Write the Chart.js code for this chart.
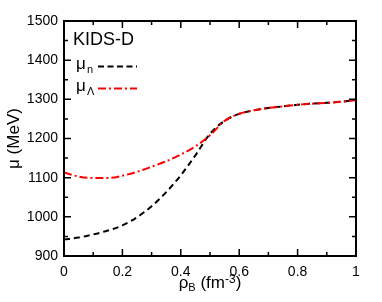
<!DOCTYPE html>
<html>
<head>
<meta charset="utf-8">
<script src="https://cdn.jsdelivr.net/npm/chart.js@4"></script>
<style>
  html, body { margin: 0; padding: 0; background: #fff; }
  canvas { display: block; }
</style>
</head>
<body>
<canvas id="muChart" width="382" height="302"></canvas>
<script>
// baryon density rho_B (fm^-3)
const rho = [0, 0.05, 0.1, 0.15, 0.2, 0.25, 0.3, 0.35, 0.4, 0.45, 0.5, 0.55, 0.6, 0.65, 0.7, 0.75, 0.8, 0.85, 0.9, 0.95, 1];
// neutron chemical potential (MeV)
const muN = [942, 947, 955, 965, 978, 999, 1027, 1063, 1106, 1157, 1212, 1245, 1263, 1272, 1278, 1282, 1286, 1289, 1291, 1294, 1298];
// lambda chemical potential (MeV)
const muL = [1113, 1103, 1099, 1099, 1105, 1115, 1128, 1142, 1159, 1180, 1208, 1245, 1263, 1272, 1278, 1282, 1286, 1289, 1291, 1294, 1298];

const xTicks = [0, 0.2, 0.4, 0.6, 0.8, 1];
const yTicks = [900, 1000, 1100, 1200, 1300, 1400, 1500];

const FONT = "'Liberation Sans', Arial, Helvetica, sans-serif";

// frame, inward ticks on all four sides, legend and axis titles
const decorations = {
    id: 'decorations',
    afterDatasetsDraw(chart) {
        const ctx = chart.ctx;
        const a = chart.chartArea;
        const xs = chart.scales.x;
        const ys = chart.scales.y;
        ctx.save();
        ctx.strokeStyle = '#000';
        ctx.lineWidth = 1.5;
        ctx.setLineDash([]);

        // ticks
        const major = 7, minor = 4;
        ctx.beginPath();
        xTicks.forEach((v, i) => {
            const px = xs.getPixelForValue(v);
            ctx.moveTo(px, a.bottom); ctx.lineTo(px, a.bottom - major);
            ctx.moveTo(px, a.top); ctx.lineTo(px, a.top + major);
            if (i < xTicks.length - 1) {
                const mx = xs.getPixelForValue((v + xTicks[i + 1]) / 2);
                ctx.moveTo(mx, a.bottom); ctx.lineTo(mx, a.bottom - minor);
                ctx.moveTo(mx, a.top); ctx.lineTo(mx, a.top + minor);
            }
        });
        yTicks.forEach((v, i) => {
            const py = ys.getPixelForValue(v);
            ctx.moveTo(a.left, py); ctx.lineTo(a.left + major, py);
            ctx.moveTo(a.right, py); ctx.lineTo(a.right - major, py);
            if (i < yTicks.length - 1) {
                const my = ys.getPixelForValue((v + yTicks[i + 1]) / 2);
                ctx.moveTo(a.left, my); ctx.lineTo(a.left + minor, my);
                ctx.moveTo(a.right, my); ctx.lineTo(a.right - minor, my);
            }
        });
        ctx.stroke();

        // frame
        ctx.lineWidth = 2;
        ctx.strokeRect(a.left, a.top, a.right - a.left, a.bottom - a.top);

        // legend
        ctx.fillStyle = '#000';
        ctx.textBaseline = 'alphabetic';
        ctx.textAlign = 'left';
        ctx.font = '18px ' + FONT;
        ctx.fillText('KIDS-D', a.left + 9, a.top + 24);

        const rows = [
            { sub: 'n', color: '#000', dash: [6, 3.5], y: a.top + 48 },
            { sub: 'Λ', color: '#ff0000', dash: [8, 3, 2, 3], y: a.top + 70 }
        ];
        rows.forEach(r => {
            ctx.fillStyle = '#000';
            ctx.font = '17px ' + FONT;
            ctx.fillText('μ', a.left + 12, r.y);
            ctx.font = '11px ' + FONT;
            ctx.fillText(r.sub, a.left + 23, r.y + 4);
            ctx.strokeStyle = r.color;
            ctx.lineWidth = 2;
            ctx.setLineDash(r.dash);
            ctx.beginPath();
            ctx.moveTo(a.left + 34, r.y - 2.5);
            ctx.lineTo(a.left + 73, r.y - 2.5);
            ctx.stroke();
        });
        ctx.setLineDash([]);

        // x axis title: rho_B (fm^-3)
        const parts = [
            { t: 'ρ', size: 17, dy: 0 },
            { t: 'B', size: 11, dy: 3 },
            { t: ' (fm', size: 17, dy: 0 },
            { t: '-3', size: 12, dy: -5 },
            { t: ')', size: 17, dy: 0 }
        ];
        let w = 0;
        parts.forEach(p => { ctx.font = p.size + 'px ' + FONT; p.w = ctx.measureText(p.t).width; w += p.w; });
        let x = (a.left + a.right) / 2 - w / 2;
        ctx.fillStyle = '#000';
        parts.forEach(p => {
            ctx.font = p.size + 'px ' + FONT;
            ctx.fillText(p.t, x, 288 + p.dy);
            x += p.w;
        });

        // y axis title
        ctx.translate(18.5, (a.top + a.bottom) / 2);
        ctx.rotate(-Math.PI / 2);
        ctx.font = '17px ' + FONT;
        ctx.textAlign = 'center';
        ctx.fillText('μ (MeV)', 0, 0);
        ctx.restore();
    }
};

new Chart(document.getElementById('muChart'), {
    type: 'line',
    data: {
        datasets: [{
            label: 'μn',
            data: rho.map((x, i) => ({ x: x, y: muN[i] })),
            borderColor: '#000',
            borderWidth: 2,
            borderDash: [6, 4],
            pointRadius: 0,
            cubicInterpolationMode: 'monotone',
            fill: false,
            order: 1
        }, {
            label: 'μΛ',
            data: rho.map((x, i) => ({ x: x, y: muL[i] })),
            borderColor: '#ff0000',
            borderWidth: 2,
            borderDash: [8, 3, 2, 3],
            pointRadius: 0,
            cubicInterpolationMode: 'monotone',
            fill: false,
            order: 0
        }]
    },
    options: {
        responsive: false,
        animation: false,
        layout: { padding: { left: 0, right: 26, top: 21, bottom: 0 } },
        plugins: {
            legend: { display: false },
            tooltip: { enabled: false }
        },
        scales: {
            x: {
                type: 'linear',
                min: 0,
                max: 1,
                afterFit: s => { s.height = 46; },
                afterBuildTicks: s => { s.ticks = xTicks.map(v => ({ value: v })); },
                grid: { display: false, drawTicks: false },
                border: { display: false },
                ticks: {
                    padding: 8,
                    color: '#000',
                    maxRotation: 0,
                    font: { family: FONT, size: 14 },
                    callback: v => String(Math.round(v * 10) / 10)
                }
            },
            y: {
                type: 'linear',
                min: 900,
                max: 1500,
                afterFit: s => { s.width = 64; },
                afterBuildTicks: s => { s.ticks = yTicks.map(v => ({ value: v })); },
                grid: { display: false, drawTicks: false },
                border: { display: false },
                ticks: {
                    padding: 6,
                    color: '#000',
                    font: { family: FONT, size: 14 },
                    callback: v => String(v)
                }
            }
        }
    },
    plugins: [decorations]
});
</script>
</body>
</html>
